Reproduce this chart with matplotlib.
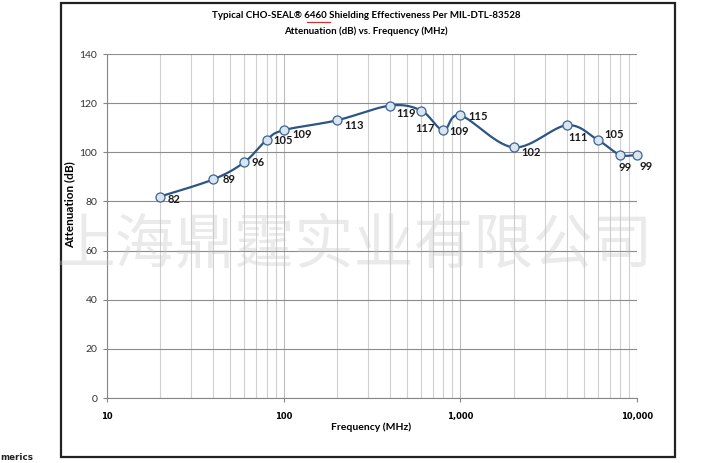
import numpy as np
import matplotlib.pyplot as plt
from matplotlib.patches import Rectangle
from matplotlib.font_manager import FontProperties

# data
freq = [20, 40, 60, 80, 100, 200, 400, 600, 800, 1000, 2000, 4000, 6000, 8000, 10000]
atten = [82, 89, 96, 105, 109, 113, 119, 117, 109, 115, 102, 111, 105, 99, 99]
# label offsets from the point, pixels (right, down)
label_dx = [14, 16, 14, 17, 18, 17, 16, 4, 16, 18, 18, 11, 16, 5, 9]
label_dy = [3, 0, 0, 1, 4, 5, 8, 18, 1, 1, 5, 12, -6, 13, 12]

x_ticks = [10, 100, 1000, 10000]
x_ticklabels = ["10", "100", "1,000", "10,000"]
y_ticks = list(range(0, 141, 20))

title1 = "Typical CHO-SEAL\u00ae 6460 Shielding Effectiveness Per MIL-DTL-83528"
title2 = "Attenuation (dB) vs. Frequency (MHz)"
watermark = "上海鼎霆实业有限公司"

W, H = 708, 463
fig = plt.figure(figsize=(W / 100, H / 100), dpi=100)

def fx(px):
    return px / W

def fy(py):
    return 1 - py / H

L, R, T, B = 107, 637, 54, 398
ax = fig.add_axes([fx(L), fy(B), (R - L) / W, (B - T) / H])
ax.set_xscale("log")
ax.set_xlim(10, 10000)
ax.set_ylim(0, 140)

# ----------------------------
# Grid / axes styling
# ----------------------------
ax.set_xticks(x_ticks)
ax.set_xticklabels(x_ticklabels, fontfamily="DejaVu Sans", fontweight="bold", fontsize=6)
minors = [m * d for d in (10, 100, 1000) for m in range(2, 10)]
ax.set_xticks(minors, minor=True)
ax.set_yticks(y_ticks)
ax.set_yticklabels([str(v) for v in y_ticks], fontfamily="Lato", fontsize=7.5, color="#333333")
ax.tick_params(axis="x", which="major", length=3, color="#868686", pad=7)
ax.tick_params(axis="x", which="minor", length=0)
ax.tick_params(axis="y", length=3, color="#868686", pad=4)
ax.grid(axis="x", which="major", color="#bdbdbd", lw=0.8)
ax.grid(axis="x", which="minor", color="#cfcfcf", lw=0.8)
ax.grid(axis="y", which="major", color="#8c8c8c", lw=0.8)
for s in ("top", "right"):
    ax.spines[s].set_visible(False)
for s in ("left", "bottom"):
    ax.spines[s].set_color("#868686")
    ax.spines[s].set_linewidth(0.8)

# ----------------------------
# Smoothed line (Excel-style Catmull-Rom in screen space)
# ----------------------------
px = (np.log10(freq) - 1) / 3 * (R - L)
py = np.array(atten) / 140 * (B - T)
P = np.column_stack([px, py])
Pe = np.vstack([P[0], P, P[-1]])
curve = []
t = np.linspace(0, 1, 30)[:, None]
for i in range(1, len(Pe) - 2):
    p0, p1, p2, p3 = Pe[i - 1], Pe[i], Pe[i + 1], Pe[i + 2]
    c1 = p1 + (p2 - p0) / 6
    c2 = p2 - (p3 - p1) / 6
    seg = (1 - t) ** 3 * p1 + 3 * (1 - t) ** 2 * t * c1 + 3 * (1 - t) * t ** 2 * c2 + t ** 3 * p2
    curve.append(seg)
curve = np.vstack(curve)
cx = 10 ** (1 + curve[:, 0] / (R - L) * 3)
cy = curve[:, 1] / (B - T) * 140
ax.plot(cx, cy, color="#2b5586", lw=1.6, zorder=3, clip_on=False)
ax.plot(freq, atten, "o", ms=6.5, mfc="#dbe5f1", mec="#3a6491", mew=0.9,
        zorder=4, clip_on=False)

for f, a, dx, dy in zip(freq, atten, label_dx, label_dy):
    ax.annotate(str(a), (f, a), xytext=(dx * 0.72, -dy * 0.72), textcoords="offset points",
                ha="center", va="center", fontfamily="Lato", fontweight="bold",
                fontsize=8, color="#1a1a1a", zorder=5)

# ----------------------------
# Texts
# ----------------------------
fig.text(fx(371), fy(427), "Frequency (MHz)", ha="center", va="center",
         fontfamily="Lato", fontweight="bold", fontsize=7.5)
fig.text(fx(70), fy(205), "Attenuation (dB)", ha="center", va="center", rotation=90,
         fontfamily="Lato", fontweight="bold", fontsize=8.5)

tprop = FontProperties(family="Lato", weight="bold", size=7)
fig.text(fx(366), fy(16), title1, ha="center", va="center", fontproperties=tprop)
fig.text(fx(366), fy(31), title2, ha="center", va="center", fontproperties=tprop)

# red spell-check underline under "6460"
fig.canvas.draw()
rend = fig.canvas.get_renderer()
full_w = rend.get_text_width_height_descent(title1, tprop, ismath=False)[0]
pre_w = rend.get_text_width_height_descent("Typical CHO-SEAL\u00ae ", tprop, ismath=False)[0]
num_w = rend.get_text_width_height_descent("6460", tprop, ismath=False)[0]
x0 = 366 - full_w / 2 + pre_w + 3
fig.add_artist(plt.Line2D([fx(x0), fx(x0 + num_w)], [fy(22), fy(22)],
                          transform=fig.transFigure, color="#d03030", lw=0.9))

fig.text(fx(0), fy(457), "merics", ha="left", va="center",
         fontfamily="DejaVu Sans", fontweight="bold", fontsize=6.3, color="#222222")

fig.text(fx(355), fy(247), watermark, ha="center", va="center",
         fontfamily="Noto Sans CJK SC", fontsize=43, color="#c4c4c4", alpha=0.35, zorder=10)

# outer frame
fig.add_artist(Rectangle((fx(61), fy(457)), (675 - 61) / W, (457 - 3) / H,
                         transform=fig.transFigure, fill=False, lw=1.6, ec="#222222"))

plt.savefig("out.png", dpi=100)
plt.close()
